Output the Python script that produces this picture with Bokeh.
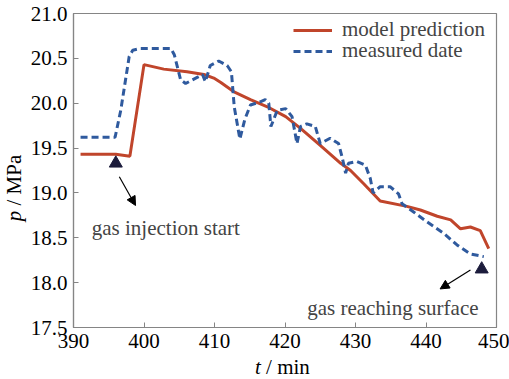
from bokeh.plotting import figure
from bokeh.layouts import row, column
from bokeh.models import (Label, Arrow, NormalHead, FixedTicker, NumeralTickFormatter,
                          Legend, LegendItem, Div)
from bokeh.embed import file_html
from bokeh.resources import INLINE

# Pressure model vs. measurement, t in min, p in MPa
model_t = [391.0, 396.0, 398.0, 400.0, 402.8, 406.1, 408.5, 409.9, 410.9, 412.7, 415.1,
           417.5, 420.1, 422.2, 425.0, 427.9, 429.3, 431.2, 433.5, 437.3, 439.2, 441.6,
           443.5, 444.9, 446.3, 447.7, 448.9]
model_p = [19.43, 19.43, 19.41, 20.43, 20.38, 20.35, 20.32, 20.28, 20.23, 20.13, 20.04,
           19.96, 19.85, 19.72, 19.53, 19.33, 19.25, 19.10, 18.91, 18.85, 18.81, 18.74,
           18.70, 18.60, 18.62, 18.58, 18.38]

meas_t = [391.0, 395.9, 396.7, 397.9, 398.4, 399.5, 403.8, 404.3, 405.2, 405.9, 407.6,
          408.3, 408.7, 409.4, 410.6, 411.8, 412.4, 412.8, 413.6, 414.3, 415.1, 416.3,
          417.2, 417.7, 418.0, 418.9, 420.1, 421.0, 421.7, 422.2, 423.1, 424.3, 425.0,
          426.4, 427.6, 428.1, 428.6, 429.0, 430.2, 431.4, 432.1, 432.5, 433.5, 434.9,
          436.1, 436.6, 438.2, 440.1, 442.5, 444.4, 446.3, 448.2]
meas_p = [19.62, 19.62, 19.92, 20.52, 20.59, 20.61, 20.61, 20.54, 20.26, 20.22, 20.29,
          20.32, 20.24, 20.42, 20.47, 20.42, 20.35, 19.96, 19.60, 19.82, 19.98, 20.01,
          20.04, 20.00, 19.74, 19.92, 19.94, 19.85, 19.55, 19.74, 19.77, 19.74, 19.55,
          19.61, 19.55, 19.40, 19.22, 19.33, 19.35, 19.31, 19.16, 19.00, 19.07, 19.07,
          18.99, 18.88, 18.79, 18.68, 18.55, 18.42, 18.32, 18.29]

# Event markers
event_t = [396.0, 447.9]
event_p = [19.33, 18.15]
event_names = ["gas injection start", "gas reaching surface"]

x_ticks = [390, 400, 410, 420, 430, 440, 450]
y_ticks = [17.5, 18.0, 18.5, 19.0, 19.5, 20.0, 20.5, 21.0]

FONT = "Liberation Serif"
FS = "21px"
RED = "#c0452b"
BLUE = "#2f5a9e"
GREY = "#858585"

TITLE_W = 26      # strip holding the vertical axis title
TITLE_H = 22      # strip holding the horizontal axis title

p = figure(width=509 - TITLE_W, height=379 - TITLE_H, x_range=(390, 450),
           y_range=(17.5, 21.0), output_backend="svg", toolbar_location=None,
           min_border_left=47, min_border_right=13, min_border_top=13, min_border_bottom=30)
p.background_fill_color = "white"
p.border_fill_color = "white"
p.outline_line_color = GREY
p.outline_line_width = 1.2
p.grid.visible = False

for ax in (p.xaxis[0], p.yaxis[0]):
    ax.axis_line_color = GREY
    ax.axis_line_width = 1.2
    ax.major_tick_line_color = GREY
    ax.major_tick_in = 5
    ax.major_tick_out = 0
    ax.minor_tick_line_color = None
    ax.major_label_text_font = FONT
    ax.major_label_text_font_size = FS
    ax.major_label_text_color = "black"

p.xaxis.ticker = FixedTicker(ticks=x_ticks)
p.yaxis.ticker = FixedTicker(ticks=y_ticks)
p.yaxis.formatter = NumeralTickFormatter(format="0.0")
p.xaxis.major_label_standoff = 6
p.yaxis.major_label_standoff = 6

r_model = p.line(model_t, model_p, line_color=RED, line_width=3)
r_meas = p.line(meas_t, meas_p, line_color=BLUE, line_width=3, line_dash="7 4")

p.scatter(event_t, event_p, marker="triangle", size=13, fill_color="#1c1c3c",
          line_color="#1c1c3c")

# Arrows from the markers towards their captions
p.add_layout(Arrow(x_start=396.5, y_start=19.18, x_end=398.8, y_end=18.86,
                   line_width=1.2, line_color="black",
                   end=NormalHead(size=9, fill_color="black", line_color="black")))
p.add_layout(Arrow(x_start=446.3, y_start=18.14, x_end=442.0, y_end=17.93,
                   line_width=1.2, line_color="black",
                   end=NormalHead(size=9, fill_color="black", line_color="black")))

p.add_layout(Label(x=403.1, y=18.61, text=event_names[0], text_align="center",
                   text_baseline="alphabetic", text_font=FONT, text_font_size=FS))
p.add_layout(Label(x=435.3, y=17.715, text=event_names[1], text_align="center",
                   text_baseline="alphabetic", text_font=FONT, text_font_size=FS))

# Two single-row legends so the rows sit close together
def legend_row(label, renderer, ypos):
    lg = Legend(items=[LegendItem(label=label, renderers=[renderer])],
                location=(220, ypos))
    lg.label_text_font = FONT
    lg.label_text_font_size = FS
    lg.glyph_width = 39
    lg.label_standoff = 10
    lg.padding = 0
    lg.spacing = 0
    lg.margin = 0
    lg.border_line_alpha = 0
    lg.background_fill_alpha = 0
    return lg

p.add_layout(legend_row("model prediction", r_model, 285))
p.add_layout(legend_row("measured date", r_meas, 264))

# Axis titles with italic quantity symbols
text_css = f"font-family:'{FONT}';font-size:{FS};color:black;white-space:nowrap;"
x_title = Div(
    text=(f"<div style=\"{text_css}line-height:20px;padding-left:{255 - TITLE_W}px;\">"
          "<i>t</i> / min</div>"),
    width=509 - TITLE_W, height=TITLE_H, margin=0)
y_title = Div(
    text=(f"<div style=\"position:relative;width:{TITLE_W}px;height:379px;\">"
          f"<div style=\"position:absolute;left:14px;top:188px;{text_css}"
          "transform:translate(-50%,-50%) rotate(-90deg);\">"
          "<i>p</i> / MPa</div></div>"),
    width=TITLE_W, height=379, margin=0)

layout = row(y_title, column(p, x_title, spacing=0), spacing=0)

open("out.html", "w").write(file_html(layout, INLINE))
